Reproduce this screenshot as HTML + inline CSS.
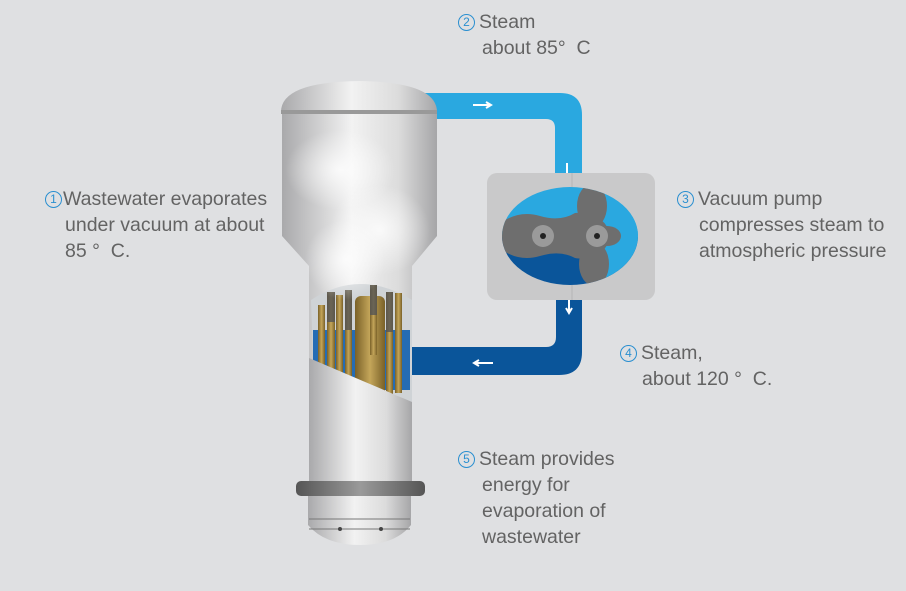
<!DOCTYPE html>
<html><head><meta charset="utf-8"><style>
html,body{margin:0;padding:0}
body{width:906px;height:591px;background:#dfe0e2;position:relative;overflow:hidden;font-family:"Liberation Sans",sans-serif;color:#636363}
.t{position:absolute;font-size:19.5px;line-height:26px;white-space:nowrap}
.n{display:inline-block;width:15px;height:15px;border:1.3px solid #2a8fd0;border-radius:50%;color:#2a8fd0;font-size:12px;line-height:15px;text-align:center;vertical-align:2px;margin-right:4px}
</style></head><body>
<svg width="906" height="591" style="position:absolute;left:0;top:0">
<defs>
<linearGradient id="cyl" x1="0" x2="1"><stop offset="0" stop-color="#a9a9ab"/><stop offset=".45" stop-color="#f2f2f2"/><stop offset=".75" stop-color="#dcdcdc"/><stop offset="1" stop-color="#a6a6a8"/></linearGradient>
<linearGradient id="ring" x1="0" x2="1"><stop offset="0" stop-color="#555"/><stop offset=".5" stop-color="#9a9a9a"/><stop offset="1" stop-color="#555"/></linearGradient>
<linearGradient id="tube" x1="0" x2="1"><stop offset="0" stop-color="#7a6128"/><stop offset=".5" stop-color="#c4a65a"/><stop offset="1" stop-color="#7a6128"/></linearGradient>
<radialGradient id="steam"><stop offset="0" stop-color="#fff" stop-opacity=".8"/><stop offset="1" stop-color="#fff" stop-opacity="0"/></radialGradient>
</defs>
<path d="M425 93 H560 Q582 93 582 115 V180 H555 V128 Q555 119 546 119 H425 Z" fill="#2aa8e0"/>
<path d="M556 290 H582 V352 Q582 375 559 375 H405 V347 H546 Q556 347 556 337 Z" fill="#0a559a"/>
<path d="M473 105 H490 M486 102 L491 105 L486 108" stroke="#fff" stroke-width="2" fill="none"/>
<path d="M567 163 V180 M564 176 L567 181 L570 176" stroke="#fff" stroke-width="2" fill="none"/>
<path d="M569 292 V312 M566 308 L569 313 L572 308" stroke="#fff" stroke-width="2" fill="none"/>
<path d="M493 363 H475 M479 360 L474 363 L479 366" stroke="#fff" stroke-width="2" fill="none"/>
<rect x="487" y="173" width="168" height="127" rx="10" fill="#c9c9ca"/>
<line x1="572" y1="173" x2="572" y2="300" stroke="#b5b5b5"/>
<clipPath id="pc"><ellipse cx="570" cy="236" rx="68" ry="49"/></clipPath>
<g clip-path="url(#pc)">
<rect x="500" y="185" width="140" height="52" fill="#2aa8e0"/>
<rect x="500" y="237" width="140" height="52" fill="#0a559a"/>
<rect x="600" y="185" width="40" height="104" fill="#2aa8e0"/>
<path d="M502 222 Q520 210 540 216 Q560 222 575 213 Q592 210 588 236 Q592 262 575 258 Q560 250 540 256 Q520 262 502 250 Z" fill="#6e6e6e"/>
<ellipse cx="592" cy="206" rx="15" ry="22" fill="#6e6e6e"/>
<ellipse cx="594" cy="264" rx="15" ry="22" fill="#6e6e6e"/>
<ellipse cx="607" cy="236" rx="14" ry="10" fill="#6e6e6e"/>
<ellipse cx="594" cy="236" rx="15" ry="18" fill="#6e6e6e"/>
</g>
<circle cx="543" cy="236" r="11" fill="#9a9a9a"/><circle cx="543" cy="236" r="3" fill="#222"/>
<circle cx="597" cy="236" r="11" fill="#9a9a9a"/><circle cx="597" cy="236" r="3" fill="#222"/>
<path d="M281 112 Q281 82 359 81 Q437 82 437 112 Z" fill="url(#cyl)"/>
<rect x="281" y="110" width="156" height="4" fill="#999"/>
<path d="M282 114 H437 V236 L412 266 V490 H309 V266 L282 236 Z" fill="url(#cyl)"/>
<path d="M311 300 Q360 268 412 300 V402 L313 358 Z" fill="#cfd3d6"/>
<rect x="313" y="330" width="97" height="60" fill="#1260b0" opacity=".9"/>
<g fill="url(#tube)">
<rect x="318" y="305" width="7" height="80"/><rect x="327" y="292" width="8" height="90"/><rect x="336" y="295" width="7" height="90"/>
<rect x="345" y="290" width="7" height="95"/><rect x="355" y="296" width="30" height="100" rx="6"/><rect x="370" y="285" width="7" height="70"/>
<rect x="386" y="292" width="7" height="105"/><rect x="395" y="293" width="7" height="100"/>
</g>
<g fill="#555" opacity=".8"><rect x="327" y="292" width="8" height="30"/><rect x="345" y="290" width="7" height="40"/><rect x="370" y="285" width="7" height="30"/><rect x="386" y="292" width="7" height="40"/></g>
<path d="M309 358 L412 402 V490 H309 Z" fill="url(#cyl)"/>
<ellipse cx="340" cy="170" rx="55" ry="40" fill="url(#steam)"/>
<ellipse cx="380" cy="230" rx="50" ry="45" fill="url(#steam)"/>
<ellipse cx="345" cy="260" rx="40" ry="40" fill="url(#steam)"/>
<rect x="296" y="481" width="129" height="15" rx="5" fill="url(#ring)"/>
<path d="M308 496 H411 V525 Q395 545 360 545 Q325 545 308 525 Z" fill="url(#cyl)"/>
<line x1="309" y1="519" x2="410" y2="519" stroke="#777"/><line x1="309" y1="529" x2="410" y2="529" stroke="#777"/>
<circle cx="340" cy="529" r="2" fill="#444"/><circle cx="381" cy="529" r="2" fill="#444"/>
</svg>
<div class="t" style="left:458px;top:9px"><span class="n">2</span>Steam<br><span style="padding-left:24px">about 85°&nbsp;&nbsp;C</span></div>
<div class="t" style="left:45px;top:186px"><span class="n" style="margin-right:1px">1</span>Wastewater evaporates<br><span style="padding-left:20px">under vacuum at about</span><br><span style="padding-left:20px">85 °&nbsp;&nbsp;C.</span></div>
<div class="t" style="left:677px;top:186px"><span class="n">3</span>Vacuum pump<br><span style="padding-left:22px">compresses steam to</span><br><span style="padding-left:22px">atmospheric pressure</span></div>
<div class="t" style="left:620px;top:340px"><span class="n">4</span>Steam,<br><span style="padding-left:22px">about 120 °&nbsp;&nbsp;C.</span></div>
<div class="t" style="left:458px;top:446px"><span class="n">5</span>Steam provides<br><span style="padding-left:24px">energy for</span><br><span style="padding-left:24px">evaporation of</span><br><span style="padding-left:24px">wastewater</span></div>
</body></html>
